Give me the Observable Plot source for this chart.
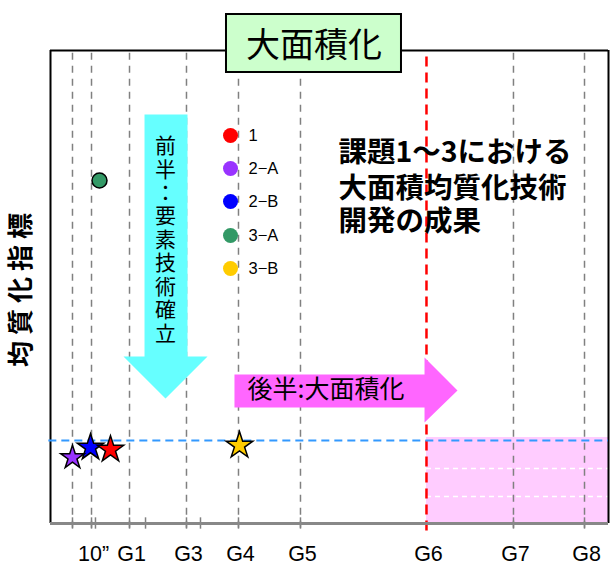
<!DOCTYPE html>
<html><head><meta charset="utf-8">
<script src="https://cdn.jsdelivr.net/npm/d3@7"></script>
<script src="https://cdn.jsdelivr.net/npm/@observablehq/plot@0.6"></script>
<style>body{margin:0;background:#fff} #chart{width:612px;height:570px}</style>
</head><body><div id="chart"></div>
<script>
// ---- data ----
const tickLabels = ["10”","G1","G3","G4","G5","G6","G7","G8"];
const tickPositions = [7.35,14.16,24.37,33.69,44.80,67.38,82.97,95.70];
const gridPositions = [3.94,7.35,14.16,24.37,33.69,44.80,82.97,95.70];
const minorTicks = [8.06,17.03,26.88];
const g6Position = 67.38;
const seriesNames = ["1","2−A","2−B","3−A","3−B"];
const seriesColors = ["#ff0000","#9933ff","#0000ff","#339966","#ffcc00"];
// star results (order: drawn back to front)
const starSeries = ["2−A","2−B","1","3−B"];
const starX = [3.94, 7.17, 10.75, 33.87];
const starY = [13.95, 16.07, 15.64, 16.49];
const starR = [7.4, 8.3, 8.3, 8.4];
// circle result
const circleSeries = ["3−A"];
const circleX = [8.78];
const circleY = [72.52];
const targetLevel = 17.55;
const goalBandTop = 18.18;
const goalBandLines = [11.63, 5.71];
// legend positions
const legendX = 32.26, legendTextX = 35.48;
const legendY = [82.03, 75.05, 68.08, 60.89, 53.91];
// annotations
const titleText = "大面積化";
const titleBox = {x1: 31.54, x2: 62.90, y1: 95.35, y2: 107.61, cx: 47.22, cy: 100.85};
const yLabel = "均質化指標";
const firstHalfChars = ["前","半","：","要","素","技","術","確","立"];
const firstHalfX = 20.61, firstHalfTop = 79.7, firstHalfStep = 4.95;
const firstHalfArrow = [[16.85,86.47],[24.55,86.47],[24.55,35.31],[28.14,35.31],[20.61,26.43],[13.08,35.31],[16.85,35.31],[16.85,86.47]];
const secondHalfText = "後半:大面積化";
const secondHalfArrow = [[32.97,31.50],[67.03,31.50],[67.03,35.10],[72.94,28.12],[67.03,21.35],[67.03,24.52],[32.97,24.52],[32.97,31.50]];
const resultLines = ["課題1～3における","大面積均質化技術","開発の成果"];
const resultX = 51.61;
const resultY = [78.44, 70.82, 63.85];

const colorOf = Object.fromEntries(seriesNames.map((s,i)=>[s, seriesColors[i]]));
const stars = starSeries.map((s,i)=>({s, x: starX[i], y: starY[i], r: starR[i]}));
const circles = circleSeries.map((s,i)=>({s, x: circleX[i], y: circleY[i]}));
const legend = seriesNames.map((s,i)=>({s, y: legendY[i]}));
const ticks = tickLabels.map((t,i)=>({t, x: tickPositions[i]}));
const lat = "Liberation Sans, Arial, sans-serif";
const jp = "Noto Sans CJK JP, sans-serif";

const plot = Plot.plot({
  width: 612, height: 570,
  marginLeft: 50, marginRight: 4, marginTop: 50, marginBottom: 47,
  x: {domain: [0, 100], axis: null},
  y: {domain: [0, 100], axis: null},
  r: {type: "identity"},
  style: {background: "#fff"},
  marks: [
    Plot.rect([0], {x1: g6Position, x2: 100, y1: 0, y2: goalBandTop, fill: "#ffccff"}),
    Plot.ruleY(goalBandLines, {x1: g6Position, x2: 100, stroke: "#fff", strokeWidth: 1.5, strokeDasharray: "5,4"}),
    Plot.ruleX(gridPositions, {y1: -1, y2: 100, stroke: "#808080", strokeWidth: 1.5, strokeDasharray: "7,6"}),
    Plot.ruleX([...gridPositions, ...minorTicks], {y1: -1.2, y2: 1.2, stroke: "#808080", strokeWidth: 1.5}),
    Plot.ruleX([g6Position], {y1: -1.6, y2: 100, stroke: "#ff0000", strokeWidth: 2.5, strokeDasharray: "10,6"}),
    Plot.ruleX([0, 100], {y1: 0, y2: 100, stroke: "#000", strokeWidth: 2}),
    Plot.ruleY([100], {x1: 0, x2: 100, stroke: "#000", strokeWidth: 2}),
    Plot.ruleY([0], {x1: 0, x2: 100, stroke: "#888", strokeWidth: 3}),
    Plot.ruleY([targetLevel], {x1: -0.3, x2: 100, stroke: "#3399ff", strokeWidth: 2, strokeDasharray: "8,5"}),
    Plot.line(firstHalfArrow, {x: d=>d[0], y: d=>d[1], fill: "#66ffff", stroke: "none"}),
    Plot.text(firstHalfChars, {x: firstHalfX, y: (d,i)=>firstHalfTop - i*firstHalfStep, fontSize: 21, fontFamily: jp, fill: "#000"}),
    Plot.line(secondHalfArrow, {x: d=>d[0], y: d=>d[1], fill: "#ff66ff", stroke: "none"}),
    Plot.text([secondHalfText], {x: 35.3, y: 28.12, textAnchor: "start", fontSize: 25, fontFamily: jp, fill: "#000"}),
    Plot.text(resultLines, {x: resultX, y: (d,i)=>resultY[i], textAnchor: "start", fontSize: 28.5, fontWeight: "bold", fontFamily: jp, fill: "#000"}),
    Plot.dot(legend, {x: legendX, y: "y", r: 7.5, fill: d=>colorOf[d.s], stroke: "none"}),
    Plot.text(legend, {x: legendTextX, y: "y", text: "s", textAnchor: "start", fontSize: 16.5, fontFamily: lat, fill: "#000"}),
    Plot.dot(circles, {x: "x", y: "y", r: 7.5, fill: d=>colorOf[d.s], stroke: "#000", strokeWidth: 1.5}),
    Plot.dot(stars, {x: "x", y: "y", r: "r", symbol: "star", fill: d=>colorOf[d.s], stroke: "#000", strokeWidth: 1.5}),
    Plot.text(ticks, {x: "x", y: 0, text: "t", dy: 31, dx: 2, fontSize: 21.5, fontFamily: lat, fill: "#000"}),
    Plot.rect([titleBox], {x1: "x1", x2: "x2", y1: "y1", y2: "y2", fill: "#ccffcc", stroke: "#000", strokeWidth: 2}),
    Plot.text([titleText], {x: titleBox.cx, y: titleBox.cy, fontSize: 34, fontFamily: jp, fill: "#000"}),
    Plot.text([yLabel], {frameAnchor: "left", textAnchor: "middle", dx: -29, rotate: -90, fontSize: 26, fontWeight: "bold", fontFamily: jp, fill: "#000"})
  ]
});
d3.select(plot).selectAll("text").filter(function(){return this.textContent === yLabel;}).attr("letter-spacing", 6);
document.getElementById("chart").append(plot);
</script></body></html>
